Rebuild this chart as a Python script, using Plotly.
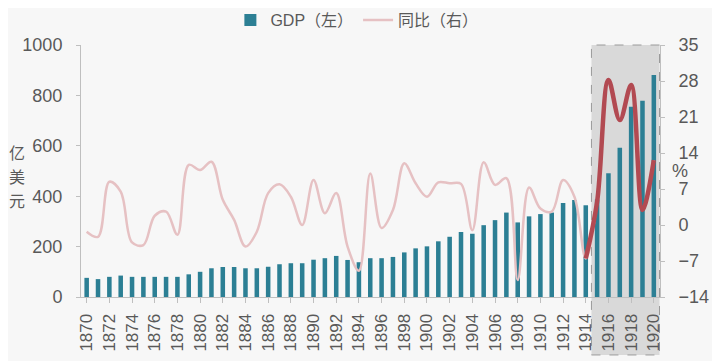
import plotly.graph_objects as go

years = [str(y) for y in range(1870, 1921)]
gdp = [76, 71, 80, 85, 80, 80, 80, 80, 80, 90,
       100, 114, 119, 119, 114, 114, 120, 130, 134, 134,
       148, 154, 163, 147, 138, 154, 154, 159, 177, 193,
       201, 221, 239, 258, 251, 285, 305, 335, 296, 320,
       329, 335, 373, 385, 364, 387, 491, 592, 755, 779, 881]
yoy = [-1.3, -2.3, 8.4, 6.5, -3.4, -3.9, 1.8, 2.6, -1.9, 11.7,
       10.7, 12.3, 4.9, 1.0, -4.2, -1.3, 6.2, 7.9, 5.5, 0.0,
       8.75, 2.3, 6.2, -4.2, -8.9, 10.0, -0.6, 2.9, 12.0, 8.1,
       5.5, 8.3, 8.1, 8.0, -1.0, 12.2, 7.8, 9.1, -10.7, 7.3,
       3.2, 2.6, 8.75, 5.5, -6.5, 4.5, 28.2, 20.4, 27.2, 2.9, 12.6]
hl_start = "1914"
tick_years = [str(y) for y in range(1870, 1921, 2)]
left_ticks = [0, 200, 400, 600, 800, 1000]
right_ticks = [-14, -7, 0, 7, 14, 21, 28, 35]
left_title = "亿美元"
right_title = "%"

font_fam = "Arial, 'Liberation Sans', 'Noto Sans CJK SC', sans-serif"
txt = "#595959"

idx = years.index(hl_start)

fig = go.Figure()
fig.add_trace(go.Bar(x=years, y=gdp, name="GDP（左）", marker_color="#2c7f94",
                     marker_line_width=0))
fig.add_trace(go.Scatter(x=years, y=yoy, name="同比（右）", yaxis="y2", mode="lines",
                         line=dict(color="#e6c1c3", width=2.5, shape="spline", smoothing=1)))
fig.add_trace(go.Scatter(x=years[idx:], y=yoy[idx:], yaxis="y2", mode="lines", showlegend=False,
                         line=dict(color="#b24a52", width=4.5, shape="spline", smoothing=1)))

fig.add_shape(type="rect", xref="x", yref="paper",
              x0=idx + 0.5, x1=len(years) - 0.5, y0=-0.23, y1=1.0,
              fillcolor="#d9d9d9", line=dict(color="#9a9a9a", width=1, dash="dash"),
              layer="below")

fig.update_layout(
    width=712, height=353,
    margin=dict(l=73, r=60, t=37, b=64, autoexpand=False),
    paper_bgcolor="#f7f7f7", plot_bgcolor="#f7f7f7",
    font=dict(family=font_fam, color=txt, size=16),
    bargap=0.6,
    showlegend=True,
    legend=dict(orientation="h", x=0.49, xanchor="center", xref="container",
                y=1 - 12 / 353, yanchor="middle", yref="container",
                font=dict(size=16, color=txt),
                bgcolor="rgba(0,0,0,0)", itemwidth=30),
    xaxis=dict(type="category", tickmode="array", tickvals=tick_years, ticktext=tick_years,
               tickangle=-90, tickfont=dict(size=17, color=txt), automargin=False,
               showline=True, linecolor="#bfbfbf", linewidth=1,
               ticks="outside", ticklen=5, tickcolor="#bfbfbf",
               showgrid=False, zeroline=False, ticklabelstandoff=4),
    yaxis=dict(range=[0, 1000], tickvals=left_ticks, tickfont=dict(size=18, color=txt),
               showline=True, linecolor="#bfbfbf", linewidth=1, automargin=False,
               ticks="outside", ticklen=4, tickcolor="#bfbfbf",
               showgrid=False, zeroline=False, ticklabelstandoff=10),
    yaxis2=dict(range=[-14, 35], tickvals=right_ticks, overlaying="y", side="right",
                tickfont=dict(size=18, color=txt), automargin=False,
                showline=True, linecolor="#bfbfbf", linewidth=1,
                ticks="outside", ticklen=4, tickcolor="#bfbfbf",
                showgrid=False, zeroline=False, ticklabelstandoff=10),
)

for k, ch in enumerate(left_title):
    fig.add_annotation(text=ch, xref="paper", yref="paper", x=-0.11, y=0.575 - k * 0.096,
                       xanchor="center", yanchor="middle", showarrow=False,
                       font=dict(size=16, color=txt, family="'Noto Sans CJK SC', sans-serif"))
fig.add_annotation(text=right_title, xref="paper", yref="paper", x=1.035, y=0.5,
                   xanchor="center", yanchor="middle", showarrow=False,
                   font=dict(size=18, color=txt))

fig.write_html("out.html")
